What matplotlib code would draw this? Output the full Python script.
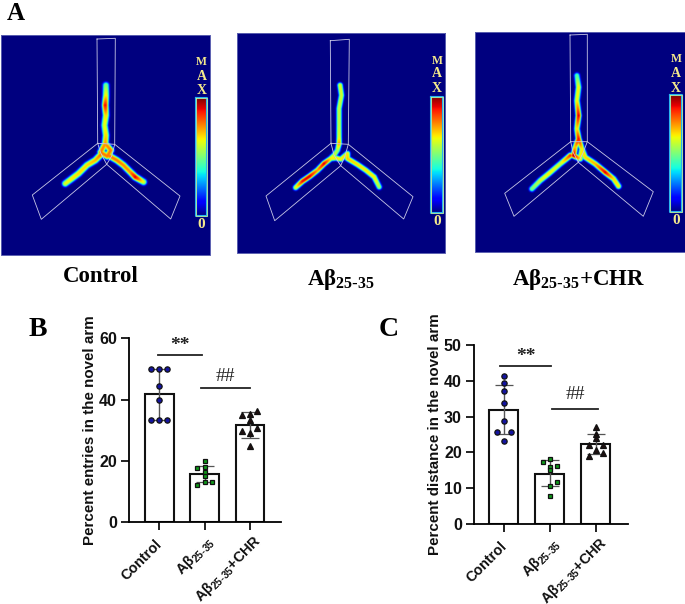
import numpy as np
import matplotlib
matplotlib.use('Agg')
import matplotlib.pyplot as plt
from matplotlib.transforms import ScaledTranslation

plt.rcParams['font.family'] = ['Liberation Sans', 'DejaVu Sans']
plt.rcParams['mathtext.default'] = 'regular'

W, H = 685, 604

sub_label = r'A$β_{25\text{-}35}$'
groups = ['Control', sub_label, sub_label + '+CHR']

# B - percent entries
b_means = [41.7, 15.7, 31.7]
b_low = [33.3, 13.0, 27.4]
b_high = [50.0, 18.5, 35.9]
b_control = [50, 50, 50, 44.3, 40, 33.3, 33.3, 33.3]
b_control_x = [-0.18, 0, 0.18, 0, 0, -0.18, 0, 0.18]
b_abeta = [20, 18, 16.5, 15, 13.3, 17.6, 12.3, 13.3]
b_abeta_x = [0, 0, 0, 0, 0, -0.17, -0.17, 0.17]
b_chr = [36.4, 35, 35.3, 33.4, 30.8, 29.9, 29.2, 25]
b_chr_x = [0.17, -0.17, 0, 0, 0.17, -0.17, 0, 0]

# C - percent distance
c_means = [31.8, 14.0, 22.3]
c_low = [25.1, 10.6, 19.6]
c_high = [38.9, 17.8, 25.1]
c_control = [41.4, 39.4, 37.2, 33.9, 28.8, 25.8, 25.8, 23.3]
c_control_x = [0, 0, 0, 0, 0, -0.16, 0.16, 0]
c_abeta = [18.2, 17.4, 16.3, 16, 15, 11.7, 10.8, 8]
c_abeta_x = [0, -0.16, 0.16, 0, 0, 0.16, 0, 0]
c_chr = [27, 25.1, 23.9, 22.1, 22, 20.7, 19.8, 19]
c_chr_x = [0, 0, 0, -0.16, 0.16, 0, 0.16, -0.16]

# heat map tracks, picture pixels: x, y, heat
p1_top = [(105.7, 85, .5), (105.7, 95, .65), (105, 105, .9), (105.7, 115, .68), (104.3, 125, .62), (105.7, 135, .68), (105, 143.3, .75)]
p1_loop = [(105, 143.3, .75), (110.5, 150, .78), (107, 156, .78), (100.5, 152, .78), (105, 143.3, .75)]
p1_left = [(100, 155, .78), (95, 160, .72), (86.7, 165, .68), (78.3, 173.3, .68), (71.7, 178.3, .66), (65, 183.3, .62)]
p1_right = [(108, 155, .78), (116.7, 160, .78), (123.3, 165, .76), (130, 171.7, .76), (135, 176.7, .92), (143.3, 181.7, .62)]

p2_top = [(339.3, 85, .62), (340.7, 95, .6), (338.3, 108.3, .58), (338.3, 125, .58), (338.3, 136.7, .62), (338.3, 143.3, .74)]
p2_cross = [(338.3, 143.3, .74), (336.7, 150, .55), (333.3, 155, .6), (330, 158.3, .66), (335, 157.7, .66), (340, 159, .66), (346.7, 153.3, .66)]
p2_left = [(330, 158.3, .66), (323.3, 163.3, .92), (316.7, 170, .74), (309, 176, .92), (301.7, 181, .9), (295, 187.3, .62)]
p2_right = [(346.7, 153.3, .66), (346.7, 158.3, .7), (356.7, 164.3, .68), (365, 170, .66), (373.3, 176.7, .66), (378.3, 186.7, .55)]

p3_top = [(576.7, 75, .45), (578.3, 86.7, .65), (576.7, 100, .64), (578.3, 115, .92), (576.7, 128.3, .66), (578.3, 138.3, .9)]
p3_loop = [(578.3, 138.3, .9), (581.7, 148.3, .66), (580, 158.3, .66), (573.3, 155, .95), (575, 146.7, .7), (578.3, 138.3, .9)]
p3_left = [(570, 155, .85), (560, 163.3, .6), (548.3, 173.3, .66), (540, 180, .6), (531.7, 188.3, .5)]
p3_right = [(581.7, 148.3, .66), (585, 156.7, .68), (595, 163.3, .72), (605, 171.7, .92), (613.3, 178.3, .68), (618.3, 185.7, .66)]

# maze outlines, picture pixels
p1_arena = [(97, 39), (115.3, 38.3), (114.7, 144.3), (180, 196), (170.7, 219), (106.7, 164.3), (41.3, 219.3), (32.3, 195), (97.7, 143.3), (97, 39)]
p1_centre = [(97.7, 143.3), (114.7, 144.3), (111.7, 156), (106.7, 164.3), (100.7, 153), (97.7, 143.3)]
p2_arena = [(330.3, 40.7), (349.3, 39.3), (348.3, 144.3), (413, 196.7), (403.7, 219), (340.7, 165.7), (274.7, 220.7), (266, 196), (331, 143.3), (330.3, 40.7)]
p2_centre = [(331, 143.3), (348.3, 144.3), (345, 156), (340.7, 165.7), (334, 155), (331, 143.3)]
p3_arena = [(570, 35), (587.3, 34.3), (587.3, 141.7), (653.3, 191.7), (643.3, 216.3), (578.3, 162.3), (514, 216.3), (504.7, 193.3), (570.7, 141.7), (570, 35)]
p3_centre = [(570.7, 141.7), (587.3, 141.7), (583, 153), (578.3, 162.3), (573, 152), (570.7, 141.7)]


def track_field(tracks, x0, x1, y0, y1, spread):
    xx, yy = np.meshgrid(np.arange(x0, x1, 0.5), np.arange(y0, y1, 0.5))
    field = np.zeros(xx.shape)
    for track in tracks:
        for (ax_, ay, ah), (bx, by, bh) in zip(track[:-1], track[1:]):
            dx, dy = bx - ax_, by - ay
            t = ((xx - ax_) * dx + (yy - ay) * dy) / (dx * dx + dy * dy)
            t = np.clip(t, 0, 1)
            d = np.hypot(xx - ax_ - t * dx, yy - ay - t * dy)
            heat = (ah + t * (bh - ah)) * np.exp(-(d / spread) ** 3)
            field = np.maximum(field, heat)
    return field


def heat_panel(ax, box, bar, max_ys, zero_y, tracks, arena, centre, spread):
    x0, x1, y0, y1 = box
    ax.imshow(track_field(tracks, x0, x1, y0, y1, spread), cmap='jet', vmin=0, vmax=1,
              extent=(x0, x1, y1, y0), aspect='auto', interpolation='bilinear', zorder=1)
    ax.plot([x0, x1, x1, x0, x0], [y0, y0, y1, y1, y0], color='#5a5fb0', lw=0.7, zorder=2)
    ax.plot(*zip(*arena), color='#c8c8e6', lw=0.6, zorder=3)
    ax.plot(*zip(*centre), color='#c8c8e6', lw=0.6, zorder=3)
    # colour bar on the right of the panel
    bx0, bx1, by0, by1 = bar
    grad = np.linspace(1, 0, 256).reshape(-1, 1)
    ax.imshow(grad, cmap='jet', vmin=0, vmax=1, extent=(bx0, bx1, by1, by0), aspect='auto', zorder=4)
    ax.plot([bx0, bx1, bx1, bx0, bx0], [by0, by0, by1, by1, by0], color='#28b4f0', lw=1.5, zorder=5)
    ax.plot([bx0, bx1, bx1, bx0, bx0], [by0, by0, by1, by1, by0], color='#d8f080', lw=0.5, zorder=5)
    xc = (bx0 + bx1) / 2
    for letter, y, s in zip('MAX', max_ys, (8.5, 10, 10)):
        ax.text(xc, y, letter, color='#f4e98c', family='Liberation Serif', weight='bold',
                size=s, ha='center', va='center', zorder=6)
    ax.text(xc, zero_y, '0', color='#f4e98c', family='Liberation Serif', weight='bold',
            size=11, ha='center', va='center', zorder=6)


def bar_panel(box, ylim, yticks, xlim, means, low, high, swarms, ylabel, star, hash_):
    left, right, top, bottom = box
    ax = fig.add_axes([left / W, 1 - bottom / H, (right - left) / W, (bottom - top) / H])
    xs = [0, 1, 2]
    ax.bar(xs, means, width=0.63, facecolor='white', edgecolor='#111111', linewidth=1.5, zorder=1)
    for x, m, lo, hi in zip(xs, means, low, high):
        ax.errorbar(x, m, yerr=[[m - lo], [hi - m]], color='#555555', lw=1.0, capsize=6.5,
                    capthick=0.9, zorder=2)
    styles = [('o', '#1414a0', 3.8), ('s', '#0f9a1a', 3.4), ('^', '#1e0f0f', 4.4)]
    for x, (off, vals), (mk, col, ms) in zip(xs, swarms, styles):
        ax.plot(np.array(off) + x, vals, ls='none', marker=mk, mfc=col, mec='#111111', mew=0.9,
                ms=ms, zorder=3, clip_on=False)
    ax.set_xlim(*xlim)
    ax.set_ylim(*ylim)
    ax.set_yticks(yticks)
    ax.set_xticks(xs)
    ax.set_xticklabels(groups, rotation=45, ha='right', rotation_mode='anchor')
    ax.tick_params(axis='both', length=5.8, width=1.3, labelsize=11.5, colors='#111111', pad=3)
    ax.tick_params(axis='x', labelsize=10.4, pad=5)
    # the subscript labels sit lower than the plain one, so nudge them apart
    nudges = [(-3, 0), (1, 3), (2, 4)]
    for lab, (nx, ny) in zip(ax.get_xticklabels(), nudges):
        lab.set_fontweight('bold')
        lab.set_transform(lab.get_transform() + ScaledTranslation(nx / 72, ny / 72, fig.dpi_scale_trans))
    for lab in ax.get_yticklabels():
        lab.set_fontweight('bold')
    ax.spines['top'].set_visible(False)
    ax.spines['right'].set_visible(False)
    ax.spines['left'].set_linewidth(1.3)
    ax.spines['bottom'].set_linewidth(1.3)
    ax.patch.set_alpha(0)
    ax.set_ylabel(ylabel, fontsize=10.9, fontweight='bold', color='#111111', labelpad=1.5)
    # significance marks
    for (x0, x1, y, ty, txt) in (star, hash_):
        ax.plot([x0, x1], [y, y], color='#222222', lw=1.3, zorder=4)
        ax.text((x0 + x1) / 2, ty, txt, family='Liberation Serif', size=14,
                weight='bold' if txt == '**' else 'normal', color='#222222', ha='center', va='center')
    return ax


fig = plt.figure(figsize=(W / 100, H / 100), dpi=100)
bg = fig.add_axes([0, 0, 1, 1])

heat_panel(bg, (1, 210, 35, 255), (196, 207.3, 98.3, 216), (62, 76, 90), 224,
           [p1_top, p1_loop, p1_left, p1_right], p1_arena, p1_centre, 3.2)
heat_panel(bg, (236.7, 445, 33, 253), (431.3, 442.7, 96.7, 213.3), (60.7, 73.5, 88), 221.7,
           [p2_top, p2_cross, p2_left, p2_right], p2_arena, p2_centre, 2.7)
heat_panel(bg, (475, 685, 31.7, 251.7), (670.3, 681.7, 95, 211.7), (59.3, 73.3, 88), 221,
           [p3_top, p3_loop, p3_left, p3_right], p3_arena, p3_centre, 2.8)

bg.set_xlim(0, W)
bg.set_ylim(H, 0)
bg.axis('off')

serif = 'Liberation Serif'
bg.text(16, 13, 'A', family=serif, weight='bold', size=18, ha='center', va='center')
bg.text(38, 329, 'B', family=serif, weight='bold', size=20, ha='center', va='center')
bg.text(389, 330, 'C', family=serif, weight='bold', size=20, ha='center', va='center')

bg.text(101, 276, 'Control', family=serif, weight='bold', size=16.5, ha='center', va='center')
bg.text(341, 279, sub_label, family=serif, weight='bold', size=16.5, ha='center', va='center')
bg.text(579, 279, sub_label + '+CHR', family=serif, weight='bold', size=16.5, ha='center', va='center')

bar_panel((129, 281, 338.3, 522.3), (0, 60), [0, 20, 40, 60], (-0.67, 2.69), b_means, b_low, b_high,
          [(b_control_x, b_control), (b_abeta_x, b_abeta), (b_chr_x, b_chr)],
          'Percent entries in the novel arm',
          (-0.02, 0.94, 54.6, 57.6, '**'), (0.92, 2.01, 43.7, 47.7, '##'))
bar_panel((474, 627.7, 344.7, 524.3), (0, 50), [0, 10, 20, 30, 40, 50], (-0.652, 2.69), c_means, c_low, c_high,
          [(c_control_x, c_control), (c_abeta_x, c_abeta), (c_chr_x, c_chr)],
          'Percent distance in the novel arm',
          (-0.087, 1.02, 44.2, 46.6, '**'), (1.04, 2.05, 32.2, 36, '##'))

fig.savefig('out.png', dpi=100)
